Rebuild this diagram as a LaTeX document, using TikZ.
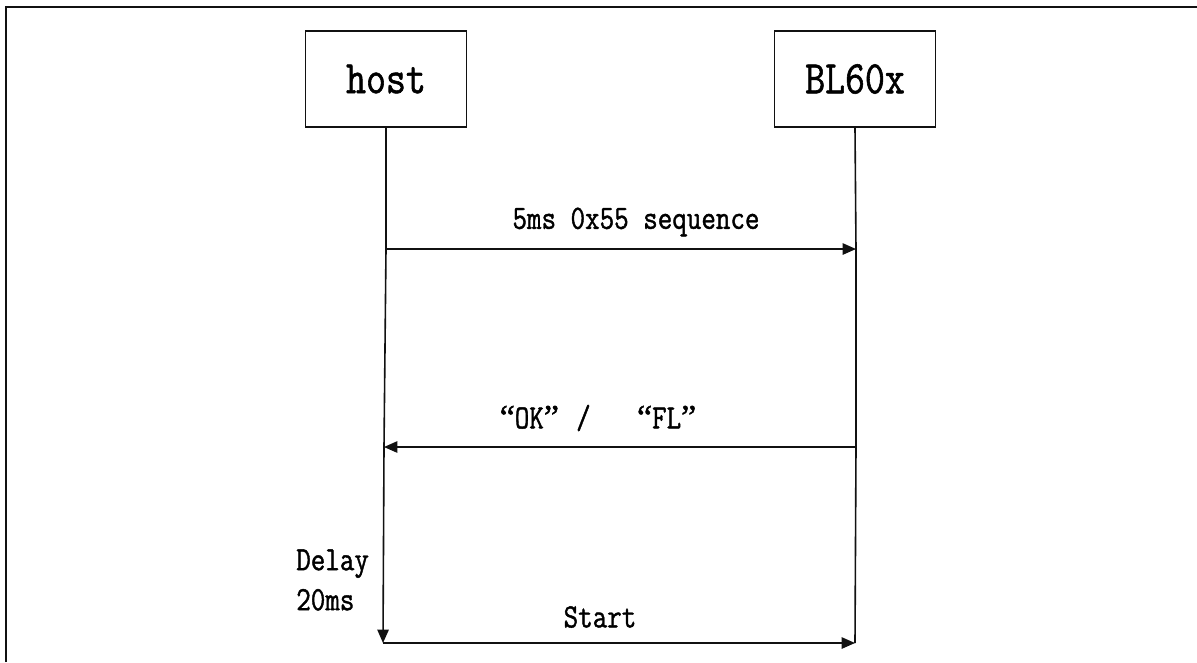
\documentclass[tikz,border=0pt]{standalone}
\usepackage{fontspec}
\setmainfont[FakeStretch=0.83,FakeBold=1.2]{Latin Modern Mono}
\newfontfamily\qfont[FakeBold=1.5]{Liberation Serif}
\usepackage{tikz}
\usetikzlibrary{positioning,arrows.meta,calc}
\definecolor{ink}{HTML}{111111}
\newcommand\qopen{\makebox[0.95em][r]{\qfont “}}
\newcommand\qclose{\makebox[0.95em][l]{\qfont ”}}
\tikzset{
  >={Triangle[length=10pt,width=8.5pt]},
  % --- nodes
  actor/.style = {draw=ink, line width=1.2pt, minimum width=121pt, minimum height=72pt,
                  inner sep=0pt, font=\fontsize{35}{40}\selectfont},
  msg/.style   = {font=\fontsize{25.5}{30}\selectfont, inner sep=0pt},
  % --- edges
  life/.style  = {draw=ink, line width=1.2pt},
  e/.style     = {->, draw=ink, line width=1.2pt},
}

\begin{document}
\begin{tikzpicture}[x=0.75pt,y=-0.75pt]
  \useasboundingbox (0,0) rectangle (1197,662);
  % frame (cut off at right and bottom)
  \draw[draw=ink,line width=2pt] (6,662) -- (6,7) -- (1197,7);

  \node[actor] (host) at (386,79) {host};
  \node[actor] (bl)   at (855,79) {BL60x};

  % lifelines
  \coordinate (h1) at (386,249);
  \coordinate (h2) at (384,447);
  \coordinate (h3) at (383,643);
  \coordinate (b1) at (856,249);
  \coordinate (b2) at (856,447);
  \coordinate (b3) at (855,643);
  \draw[life] (host.south) -- (h1) -- (h2);
  \draw[e] (h2) -- (h3);
  \draw[life] (bl.south) -- (b1) -- (b2) -- (b3);

  % messages
  \draw[e] (h1) -- (b1);
  \node[msg] (seq) at (636,222) {5ms 0x55 sequence};
  \draw[e] (b2) -- (h2);
  \node[msg] (ack) at (598,418) {\qopen OK\qclose/\ \ \qopen FL\qclose};
  \draw[e] (h3) -- (b3);
  \node[msg] (start) at (600,617) {Start};

  \node[msg, anchor=west, align=left, font=\fontsize{25.5}{30}\selectfont]
    (delay) at (296,580) {Delay\\20ms};
\end{tikzpicture}
\end{document}
